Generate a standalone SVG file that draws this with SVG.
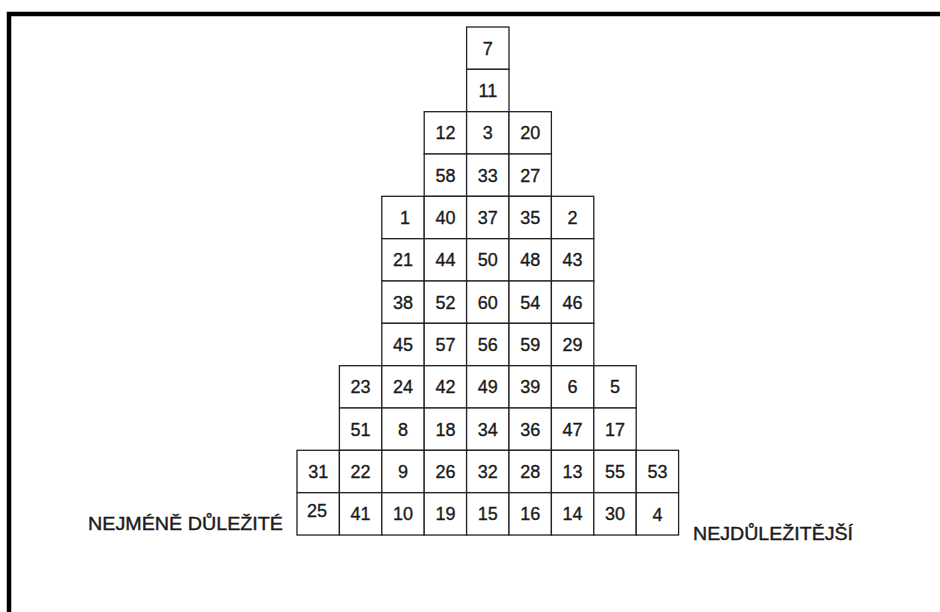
<svg xmlns="http://www.w3.org/2000/svg" width="940" height="612" viewBox="0 0 940 612">
<style>
.c rect{fill:#fff;stroke:#222;stroke-width:1.3}
.c text{font-family:"Liberation Sans",Arial,sans-serif;font-size:18px;fill:#1a1a1a;stroke:#1a1a1a;stroke-width:0.35;text-anchor:middle}
.lbl{font-family:"Liberation Sans",Arial,sans-serif;font-size:18px;fill:#1a1a1a;stroke:#1a1a1a;stroke-width:0.4}
</style>
<rect width="940" height="612" fill="#fff"/>
<path id="frame" d="M9,612 V14 H940" fill="none" stroke="#000" stroke-width="4.5"/>
<g id="grid" class="c">
<g id="n7"><rect x="466.6" y="27" width="42.4" height="42.33"/><text x="487.8" y="54.5">7</text></g>
<g id="n11"><rect x="466.6" y="69.3" width="42.4" height="42.33"/><text x="487.8" y="96.8">11</text></g>
<g id="n12"><rect x="424.2" y="111.7" width="42.4" height="42.33"/><text x="445.4" y="139.2">12</text></g>
<g id="n3"><rect x="466.6" y="111.7" width="42.4" height="42.33"/><text x="487.8" y="139.2">3</text></g>
<g id="n20"><rect x="509" y="111.7" width="42.4" height="42.33"/><text x="530.2" y="139.2">20</text></g>
<g id="n58"><rect x="424.2" y="154" width="42.4" height="42.33"/><text x="445.4" y="181.5">58</text></g>
<g id="n33"><rect x="466.6" y="154" width="42.4" height="42.33"/><text x="487.8" y="181.5">33</text></g>
<g id="n27"><rect x="509" y="154" width="42.4" height="42.33"/><text x="530.2" y="181.5">27</text></g>
<g id="n1"><rect x="381.8" y="196.3" width="42.4" height="42.33"/><text x="405" y="223.8">1</text></g>
<g id="n40"><rect x="424.2" y="196.3" width="42.4" height="42.33"/><text x="445.4" y="223.8">40</text></g>
<g id="n37"><rect x="466.6" y="196.3" width="42.4" height="42.33"/><text x="487.8" y="223.8">37</text></g>
<g id="n35"><rect x="509" y="196.3" width="42.4" height="42.33"/><text x="530.2" y="223.8">35</text></g>
<g id="n2"><rect x="551.4" y="196.3" width="42.4" height="42.33"/><text x="572.6" y="223.8">2</text></g>
<g id="n21"><rect x="381.8" y="238.7" width="42.4" height="42.33"/><text x="403" y="266.2">21</text></g>
<g id="n44"><rect x="424.2" y="238.7" width="42.4" height="42.33"/><text x="445.4" y="266.2">44</text></g>
<g id="n50"><rect x="466.6" y="238.7" width="42.4" height="42.33"/><text x="487.8" y="266.2">50</text></g>
<g id="n48"><rect x="509" y="238.7" width="42.4" height="42.33"/><text x="530.2" y="266.2">48</text></g>
<g id="n43"><rect x="551.4" y="238.7" width="42.4" height="42.33"/><text x="572.6" y="266.2">43</text></g>
<g id="n38"><rect x="381.8" y="281" width="42.4" height="42.33"/><text x="403" y="308.5">38</text></g>
<g id="n52"><rect x="424.2" y="281" width="42.4" height="42.33"/><text x="445.4" y="308.5">52</text></g>
<g id="n60"><rect x="466.6" y="281" width="42.4" height="42.33"/><text x="487.8" y="308.5">60</text></g>
<g id="n54"><rect x="509" y="281" width="42.4" height="42.33"/><text x="530.2" y="308.5">54</text></g>
<g id="n46"><rect x="551.4" y="281" width="42.4" height="42.33"/><text x="572.6" y="308.5">46</text></g>
<g id="n45"><rect x="381.8" y="323.3" width="42.4" height="42.33"/><text x="403" y="350.8">45</text></g>
<g id="n57"><rect x="424.2" y="323.3" width="42.4" height="42.33"/><text x="445.4" y="350.8">57</text></g>
<g id="n56"><rect x="466.6" y="323.3" width="42.4" height="42.33"/><text x="487.8" y="350.8">56</text></g>
<g id="n59"><rect x="509" y="323.3" width="42.4" height="42.33"/><text x="530.2" y="350.8">59</text></g>
<g id="n29"><rect x="551.4" y="323.3" width="42.4" height="42.33"/><text x="572.6" y="350.8">29</text></g>
<g id="n23"><rect x="339.4" y="365.7" width="42.4" height="42.33"/><text x="360.6" y="393.2">23</text></g>
<g id="n24"><rect x="381.8" y="365.7" width="42.4" height="42.33"/><text x="403" y="393.2">24</text></g>
<g id="n42"><rect x="424.2" y="365.7" width="42.4" height="42.33"/><text x="445.4" y="393.2">42</text></g>
<g id="n49"><rect x="466.6" y="365.7" width="42.4" height="42.33"/><text x="487.8" y="393.2">49</text></g>
<g id="n39"><rect x="509" y="365.7" width="42.4" height="42.33"/><text x="530.2" y="393.2">39</text></g>
<g id="n6"><rect x="551.4" y="365.7" width="42.4" height="42.33"/><text x="572.6" y="393.2">6</text></g>
<g id="n5"><rect x="593.8" y="365.7" width="42.4" height="42.33"/><text x="615" y="393.2">5</text></g>
<g id="n51"><rect x="339.4" y="408" width="42.4" height="42.33"/><text x="360.6" y="435.5">51</text></g>
<g id="n8"><rect x="381.8" y="408" width="42.4" height="42.33"/><text x="403" y="435.5">8</text></g>
<g id="n18"><rect x="424.2" y="408" width="42.4" height="42.33"/><text x="445.4" y="435.5">18</text></g>
<g id="n34"><rect x="466.6" y="408" width="42.4" height="42.33"/><text x="487.8" y="435.5">34</text></g>
<g id="n36"><rect x="509" y="408" width="42.4" height="42.33"/><text x="530.2" y="435.5">36</text></g>
<g id="n47"><rect x="551.4" y="408" width="42.4" height="42.33"/><text x="572.6" y="435.5">47</text></g>
<g id="n17"><rect x="593.8" y="408" width="42.4" height="42.33"/><text x="615" y="435.5">17</text></g>
<g id="n31"><rect x="297" y="450.3" width="42.4" height="42.33"/><text x="318.2" y="477.8">31</text></g>
<g id="n22"><rect x="339.4" y="450.3" width="42.4" height="42.33"/><text x="360.6" y="477.8">22</text></g>
<g id="n9"><rect x="381.8" y="450.3" width="42.4" height="42.33"/><text x="403" y="477.8">9</text></g>
<g id="n26"><rect x="424.2" y="450.3" width="42.4" height="42.33"/><text x="445.4" y="477.8">26</text></g>
<g id="n32"><rect x="466.6" y="450.3" width="42.4" height="42.33"/><text x="487.8" y="477.8">32</text></g>
<g id="n28"><rect x="509" y="450.3" width="42.4" height="42.33"/><text x="530.2" y="477.8">28</text></g>
<g id="n13"><rect x="551.4" y="450.3" width="42.4" height="42.33"/><text x="572.6" y="477.8">13</text></g>
<g id="n55"><rect x="593.8" y="450.3" width="42.4" height="42.33"/><text x="615" y="477.8">55</text></g>
<g id="n53"><rect x="636.2" y="450.3" width="42.4" height="42.33"/><text x="657.4" y="477.8">53</text></g>
<g id="n25"><rect x="297" y="492.7" width="42.4" height="42.33"/><text x="317" y="517">25</text></g>
<g id="n41"><rect x="339.4" y="492.7" width="42.4" height="42.33"/><text x="360.6" y="520.2">41</text></g>
<g id="n10"><rect x="381.8" y="492.7" width="42.4" height="42.33"/><text x="403" y="520.2">10</text></g>
<g id="n19"><rect x="424.2" y="492.7" width="42.4" height="42.33"/><text x="445.4" y="520.2">19</text></g>
<g id="n15"><rect x="466.6" y="492.7" width="42.4" height="42.33"/><text x="487.8" y="520.2">15</text></g>
<g id="n16"><rect x="509" y="492.7" width="42.4" height="42.33"/><text x="530.2" y="520.2">16</text></g>
<g id="n14"><rect x="551.4" y="492.7" width="42.4" height="42.33"/><text x="572.6" y="520.2">14</text></g>
<g id="n30"><rect x="593.8" y="492.7" width="42.4" height="42.33"/><text x="615" y="520.2">30</text></g>
<g id="n4"><rect x="636.2" y="492.7" width="42.4" height="42.33"/><text x="657.4" y="521">4</text></g>
</g>
<g id="labels">
<text class="lbl" x="88" y="530" textLength="195" lengthAdjust="spacingAndGlyphs">NEJMÉNĚ DŮLEŽITÉ</text>
<text class="lbl" x="693" y="540" textLength="160" lengthAdjust="spacingAndGlyphs">NEJDŮLEŽITĚJŠÍ</text>
</g>
</svg>
